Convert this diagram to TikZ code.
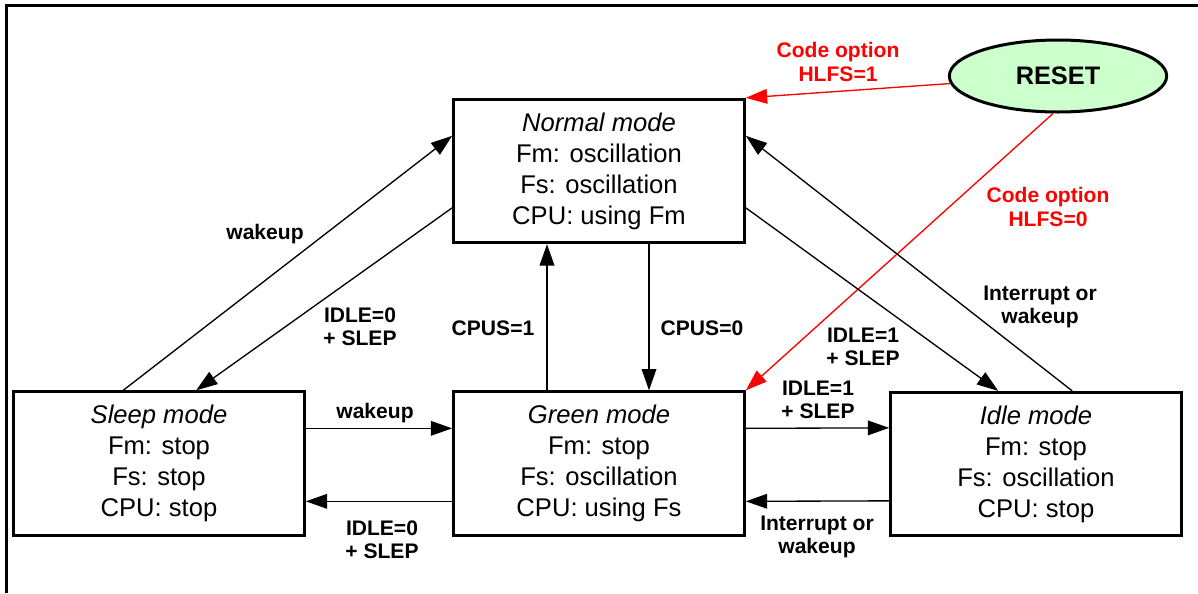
\documentclass[tikz,border=0pt]{standalone}
\usepackage{fontspec}
\setmainfont{Liberation Sans}
\usepackage{xcolor}
\usetikzlibrary{shapes.geometric, arrows.meta, positioning, calc}
\definecolor{ResetGreen}{HTML}{CCFFCC}
\definecolor{OptionRed}{HTML}{FF0000}
\tikzset{
    % Node styles - all with sharp corners
    modebox/.style={
        rectangle,
        draw=black,
        line width=2.25pt,
        minimum width=218pt,
        minimum height=107.5pt,
        align=center,
        font=\fontsize{19.2}{23.3}\selectfont
    },
    resetnode/.style={
        ellipse,
        draw=black,
        fill=ResetGreen,
        line width=2.25pt,
        minimum width=163pt,
        minimum height=54pt,
        inner sep=0pt,
        font=\fontsize{19}{23}\selectfont\bfseries
    },
    condlabel/.style={
        align=center,
        inner sep=0pt,
        font=\fontsize{15.8}{17.4}\selectfont\bfseries
    },
    optlabel/.style={
        condlabel,
        text=OptionRed
    },
    % Arrow styles
    myarrow/.style={
        -{Triangle[length=16pt,width=11pt]},
        line width=1pt,
        black
    },
    resetarrow/.style={
        myarrow,
        draw=OptionRed,
        fill=OptionRed
    }
}

\begin{document}
\begin{tikzpicture}[x=0.75pt, y=-0.75pt]
    \useasboundingbox (0,0) rectangle (1198,593);
    % Frame
    \draw[line width=2.25pt] (6.5,593) -- (6.5,5.3) -- (1198,5.3);

    % Modes
    \node[modebox] (normal) at (599,171) {\textit{Normal mode}\\Fm: oscillation\\Fs: oscillation\\CPU: using Fm};
    \node[modebox] (sleep) at (159,463.5) {\textit{Sleep mode}\\Fm: stop\\Fs: stop\\CPU: stop};
    \node[modebox] (green) at (599,463.5) {\textit{Green mode}\\Fm: stop\\Fs: oscillation\\CPU: using Fs};
    \node[modebox] (idle) at (1036,464) {\textit{Idle mode}\\Fm: stop\\Fs: oscillation\\CPU: stop};
    \node[resetnode] (reset) at (1058,76) {RESET};

    % Reset paths
    \draw[resetarrow] (reset) -- (normal.north east);
    \draw[resetarrow] ($(reset.south)+(-5,0)$) -- (green.north east);
    \node[optlabel] (hlfsone) at (838,62) {Code option\\HLFS=1};
    \node[optlabel] (hlfszero) at (1048,207) {Code option\\HLFS=0};

    % Normal <-> Sleep
    \draw[myarrow] ($(sleep.north west)+(111,0)$) -- ($(normal.north west)+(0,38)$);
    \draw[myarrow] ($(normal.north west)+(0,110)$) -- ($(sleep.north west)+(184,0)$);
    \node[condlabel] (lwake) at (265,234) {wakeup};
    \node[condlabel] (lslepa) at (360,327) {IDLE=0\\+ SLEP};

    % Normal <-> Green
    \draw[myarrow] ($(green.north)+(-52,0)$) -- ($(normal.south)+(-52,0)$);
    \draw[myarrow] ($(normal.south)+(50,0)$) -- ($(green.north)+(50,0)$);
    \node[condlabel] (lcpusone) at (493,328) {CPUS=1};
    \node[condlabel] (lcpuszero) at (702,328) {CPUS=0};

    % Normal <-> Idle
    \draw[myarrow] ($(normal.north east)+(0,110)$) -- ($(idle.north west)+(109,0)$);
    \draw[myarrow] ($(idle.north west)+(183,0)$) -- ($(normal.north east)+(0,38)$);
    \node[condlabel] (lidlea) at (863,347) {IDLE=1\\+ SLEP};
    \node[condlabel] (lirqa) at (1040,307) {Interrupt or\\wakeup};

    % Sleep <-> Green
    \draw[myarrow] ($(sleep.north east)+(0,38)$) -- ($(green.north west)+(0,38)$);
    \draw[myarrow] ($(green.north west)+(0,111)$) -- ($(sleep.north east)+(0,111)$);
    \node[condlabel] (lwakeb) at (375,413) {wakeup};
    \node[condlabel] (lslepb) at (382,540) {IDLE=0\\+ SLEP};

    % Green <-> Idle
    \draw[myarrow] ($(green.north east)+(0,38)$) -- ($(idle.north west)+(0,37)$);
    \draw[myarrow] ($(idle.north west)+(0,110)$) -- ($(green.north east)+(0,111)$);
    \node[condlabel] (lidleb) at (818,400) {IDLE=1\\+ SLEP};
    \node[condlabel] (lirqb) at (817,537) {Interrupt or\\wakeup};
\end{tikzpicture}
\end{document}
